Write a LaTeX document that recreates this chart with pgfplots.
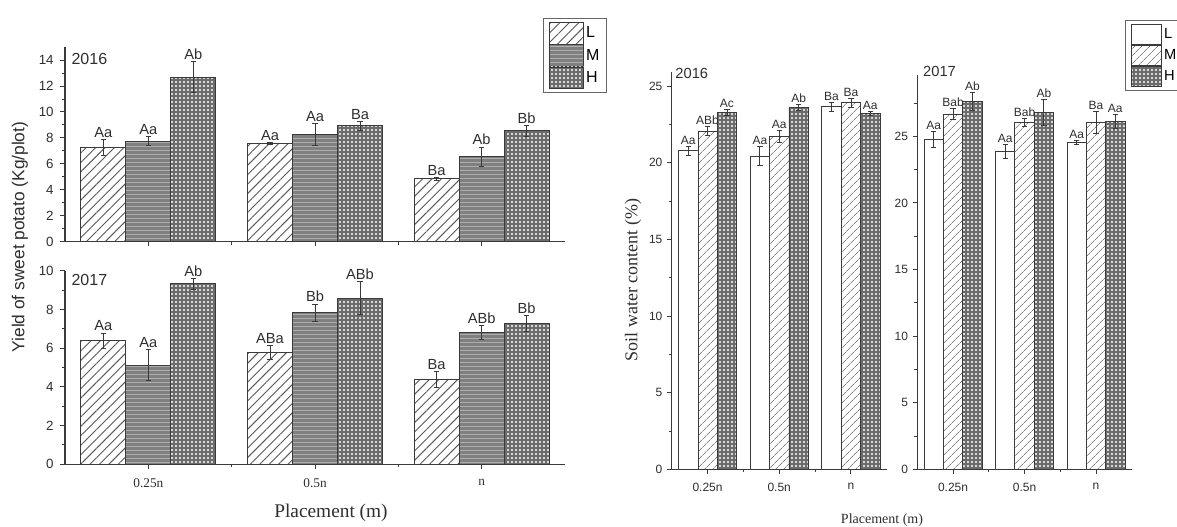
\documentclass[border=0pt]{standalone}
\usepackage{fontspec}
\setmainfont{Liberation Sans}
\newfontfamily\serif{Liberation Serif}
\usepackage{pgfplots}
\pgfplotsset{compat=1.18}
\usepackage{pgfplotstable}
\usetikzlibrary{patterns,patterns.meta}

\definecolor{axc}{HTML}{3A3A3A}
\definecolor{txc}{HTML}{2E2E2E}
\newcommand\fs[1]{\fontsize{#1}{#1}\selectfont}

% 2016 yield
\pgfplotstableread{
x L Le M Me H He Ll Ml Hl
0 7.25 0.6 7.76 0.35 12.67 1.2 Aa Aa Ab
1 7.55 0.08 8.27 0.85 8.94 0.35 Aa Aa Ba
2 4.85 0.12 6.55 0.75 8.55 0.4 Ba Ab Bb
}\yieldA
% 2017 yield
\pgfplotstableread{
x L Le M Me H He Ll Ml Hl
0 6.39 0.4 5.12 0.8 9.33 0.3 Aa Aa Ab
1 5.79 0.35 7.84 0.45 8.59 0.85 ABa Bb ABb
2 4.40 0.4 6.83 0.35 7.29 0.4 Ba ABb Bb
}\yieldB
% 2016 soil water
\pgfplotstableread{
x L Le M Me H He Ll Ml Hl
0 20.78 0.3 22.07 0.3 23.26 0.2 Aa ABb Ac
1 20.44 0.6 21.70 0.4 23.61 0.2 Aa Aa Ab
2 23.65 0.3 23.91 0.3 23.22 0.15 Ba Ba Aa
}\soilA
% 2017 soil water
\pgfplotstableread{
x L Le M Me H He Ll Ml Hl
0 24.79 0.6 26.67 0.4 27.62 0.7 Aa Bab Ab
1 23.86 0.5 26.04 0.3 26.79 1.0 Aa Bab Ab
2 24.54 0.15 26.04 0.8 26.12 0.5 Aa Ba Aa
}\soilB

\pgfplotsset{
  base/.style={scale only axis, axis lines*=left, xmin=-0.5, xmax=2.5, ymin=0,
    enlargelimits=false, clip=false, xtick={0,1,2}, xticklabels={0.25n,0.5n,n},
    minor xtick={0.5,1.5}, tick align=outside, major tick length=3.5pt,
    minor tick length=2.2pt, axis line style={axc, line width=0.8pt},
    tick style={axc, line width=0.7pt},
    /pgf/number format/assume math mode=true,
    ticklabel style={txc}, every axis label/.append style={txc}},
  lleg/.style={legend image code/.code={\draw[##1] (0pt,-8pt) rectangle (26pt,8pt);}},
  rleg/.style={legend image code/.code={\draw[##1] (0pt,-7.5pt) rectangle (23pt,7.5pt);}},
  leftL/.style={fill=white, draw=axc, line width=0.6pt,
    postaction={pattern color=black!65, pattern={Lines[angle=45,distance=5pt,line width=0.7pt]}}},
  leftM/.style={fill=black!50, draw=axc, line width=0.6pt,
    postaction={pattern color=black!32, pattern={Lines[angle=0,distance=3pt,line width=0.5pt]}}},
  hatchH/.style={fill=black!58, draw=axc, line width=0.6pt,
    postaction={pattern color=white, pattern={Dots[distance=3pt,radius=0.8pt]}}},
  rightL/.style={fill=white, draw=axc, line width=0.6pt},
  rightM/.style={fill=white, draw=axc, line width=0.6pt,
    postaction={pattern color=black!50, pattern={Lines[angle=45,distance=4pt,line width=0.6pt]}}},
}

\newcommand\barset[5]{% table, column, shift, style, legend style
  \addplot[ybar, bar width=0.27, bar shift=#3, #4, #5]
    table[x=x, y=#2] {#1};
}
\newcommand\errset[3]{% table, column, shift
  \addplot[forget plot, draw=none, mark=none,
    error bars/.cd, y dir=both, y explicit,
    error bar style={axc, line width=0.6pt, solid},
    error mark options={rotate=90, mark size=2pt, axc, line width=0.6pt, solid}]
    table[x expr=\thisrow{x}+(#3), y=#2, y error=#2e] {#1};
}
\newcommand\labset[4]{% table, column, shift, font size
  \addplot[forget plot, only marks, mark=none, nodes near coords,
    point meta=explicit symbolic,
    every node near coord/.append style={font=\fs{#4}, text=txc, anchor=south, inner sep=1.2pt}]
    table[x expr=\thisrow{x}+(#3), y expr=\thisrow{#2}+\thisrow{#2e}, meta=#2l] {#1};
}
\newcommand\panel[2]{% table, label size
  \errset{#1}{L}{-0.27}\errset{#1}{M}{0}\errset{#1}{H}{0.27}
  \labset{#1}{L}{-0.27}{#2}\labset{#1}{M}{0}{#2}\labset{#1}{H}{0.27}{#2}
}

\begin{document}
\begin{tikzpicture}
\useasboundingbox (0,0) rectangle (882.75pt,394.5pt);

% ---------- Left top: 2016 yield ----------
\begin{axis}[base, at={(48.75pt,213.2pt)}, anchor=south west,
  width=375pt, height=146pt, ymax=15,
  ytick={0,2,...,14}, minor ytick={1,3,...,13},
  xticklabels={},
  yticklabel style={font=\fs{10}, xshift=-1.5pt},
  ylabel={Yield of sweet potato (Kg/plot)},
  ylabel style={font=\fs{13}, at={(axis description cs:-0.09,0.024)}, anchor=center},
  legend style={at={(axis description cs:0.956,1.149)}, anchor=north west,
    draw=black!60, fill=white, inner xsep=4pt, inner ysep=3pt, row sep=0pt,
    font=\fs{12}, nodes={inner sep=1.5pt}},
  legend cell align=left]
  \barset{\yieldA}{L}{-0.27}{leftL}{lleg}
  \barset{\yieldA}{M}{0}{leftM}{lleg}
  \barset{\yieldA}{H}{0.27}{hatchH}{lleg}
  \panel{\yieldA}{11}
  \node[anchor=north west, font=\fs{12}, text=txc, inner sep=1pt] at (rel axis cs:0.01,0.975) {2016};
  \legend{L,M,H}
\end{axis}

% ---------- Left bottom: 2017 yield ----------
\begin{axis}[base, at={(48.75pt,46.3pt)}, anchor=south west,
  width=375pt, height=145pt, ymax=10,
  ytick={0,2,...,10}, minor ytick={1,3,...,9},
  yticklabel style={font=\fs{10}, xshift=-1.5pt},
  xticklabel style={font=\serif\fs{10}, yshift=-4pt},
  xlabel={Placement (m)},
  xlabel style={font=\serif\fs{14.5}, at={(axis description cs:0.532,-0.252)}, anchor=center}]
  \barset{\yieldB}{L}{-0.27}{leftL}{lleg}
  \barset{\yieldB}{M}{0}{leftM}{lleg}
  \barset{\yieldB}{H}{0.27}{hatchH}{lleg}
  \panel{\yieldB}{11}
  \node[anchor=north west, font=\fs{12}, text=txc, inner sep=1pt] at (rel axis cs:0.01,0.99) {2017};
\end{axis}

% ---------- Right left: 2016 soil water ----------
\begin{axis}[base, at={(503.8pt,42.5pt)}, anchor=south west,
  width=161.25pt, height=298.2pt, ymax=25.93,
  ytick={0,5,...,25}, minor ytick={2.5,7.5,...,22.5},
  yticklabel style={font=\fs{9}},
  xticklabel style={font=\fs{9}, yshift=-3pt},
  ylabel={Soil water content (\%)},
  ylabel style={font=\serif\fs{13.5}, at={(axis description cs:-0.18,0.476)}, anchor=center},
  xlabel={Placement (m)},
  xlabel style={font=\serif\fs{10.5}, at={(axis description cs:0.978,-0.1275)}, anchor=center}]
  \barset{\soilA}{L}{-0.27}{rightL}{rleg}
  \barset{\soilA}{M}{0}{rightM}{rleg}
  \barset{\soilA}{H}{0.27}{hatchH}{rleg}
  \panel{\soilA}{9}
  \node[anchor=west, font=\fs{11}, text=txc, inner sep=1pt] at (rel axis cs:0.01,0.995) {2016};
\end{axis}

% ---------- Right right: 2017 soil water ----------
\begin{axis}[base, at={(688pt,42.5pt)}, anchor=south west,
  width=160.8pt, height=295.7pt, ymax=29.6,
  ytick={0,5,...,25}, minor ytick={2.5,7.5,...,27.5},
  yticklabel style={font=\fs{9}},
  xticklabel style={font=\fs{9}, yshift=-3pt},
  legend style={at={(axis description cs:0.969,1.1395)}, anchor=north west,
    draw=black!60, fill=white, inner xsep=4pt, inner ysep=3pt, row sep=0pt,
    font=\fs{11}, nodes={inner sep=1.5pt}},
  legend cell align=left]
  \barset{\soilB}{L}{-0.27}{rightL}{rleg}
  \barset{\soilB}{M}{0}{rightM}{rleg}
  \barset{\soilB}{H}{0.27}{hatchH}{rleg}
  \panel{\soilB}{9}
  \node[anchor=west, font=\fs{11}, text=txc, inner sep=1pt] at (rel axis cs:0.02,1.01) {2017};
  \legend{L,M,H}
\end{axis}
\end{tikzpicture}
\end{document}
